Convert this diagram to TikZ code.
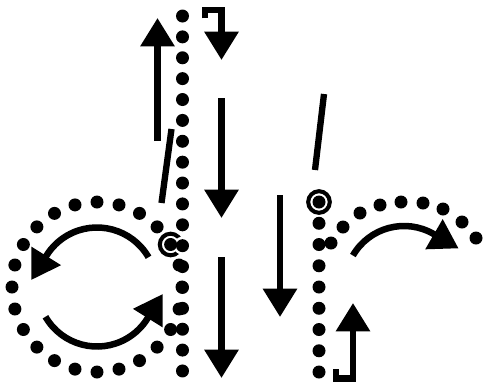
\documentclass[tikz,border=0pt]{standalone}
\usepackage{tikz}
\usetikzlibrary{arrows.meta}

\tikzset{
  dotmark/.style={fill=black},
  dothalo/.style={fill=white},
  ringmark/.style={line width=2.3pt},
  hintline/.style={line width=3.6pt},
  strokearr/.style={line width=3.7pt,-{Triangle[width=18.8pt,length=16.2pt]}}
}

\begin{document}
\begin{tikzpicture}[x=0.02cm,y=-0.02cm]
\useasboundingbox (0,0) rectangle (484,383);

% letter d
\draw[ringmark] (170.6,244.5) circle (10.8);
\foreach \k in {0,...,17}{
  \fill[dothalo] (182.5,{16+20.88*\k}) circle (9);
  \fill[dotmark] (182.5,{16+20.88*\k}) circle (6.5);
}
\foreach \a in {0,15,...,345}
  \fill[dotmark] ({97+85*cos(\a)},{287-85*sin(\a)}) circle (6.5);

\draw[strokearr] ({97+59.5*cos(30)},{287-59.5*sin(30)}) arc[start angle=-30,end angle=-148,radius=59.5] -- ++(-238:29);
\draw[strokearr] ({97+59.5*cos(210)},{287-59.5*sin(210)}) arc[start angle=-210,end angle=-328,radius=59.5] -- ++(-58:29);

\draw[strokearr] (157.5,141) -- (157.5,18);
\draw[hintline] (171.5,129) -- (161.5,203);
\draw[strokearr] (205,18.3) -- (205,10) -- (221.5,10) -- (221.5,60);
\draw[strokearr] (221.5,98) -- (221.5,218);
\draw[strokearr] (221.5,257) -- (221.5,378);

% letter r
\draw[ringmark] (319,202) circle (10.8);
\fill[dotmark] (319,202) circle (6.5);
\foreach \k in {1,...,8}
  \fill[dotmark] (319,{202+21.25*\k}) circle (6.5);
\foreach \p in {(331,243),(343,227),(360,213),(380,205),(401,202),(423,203),(443,209),(462,222),(476,238)}
  \fill[dotmark] \p circle (6.5);

\draw[strokearr] ({404+59*cos(150)},{285-59*sin(150)}) arc[start angle=-150,end angle=-60,radius=59] -- ++(30:29);
\draw[hintline] (324,94) -- (315,170);
\draw[strokearr] (280,195) -- (280,317);
\draw[strokearr] (336,369) -- (336,378.5) -- (353,378.5) -- (353,303);
\end{tikzpicture}
\end{document}
